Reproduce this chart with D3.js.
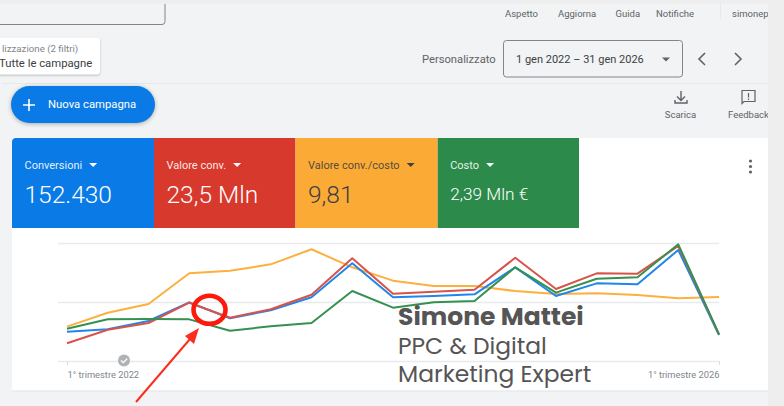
<!DOCTYPE html>
<html>
<head>
<meta charset="utf-8">
<script src="https://cdn.jsdelivr.net/npm/d3@7"></script>
<style>
  html, body { margin: 0; padding: 0; background: #f1f3f4; overflow: hidden; }
  svg { display: block; font-family: Roboto, sans-serif; }
</style>
</head>
<body>
<svg id="chart"></svg>
<script>
// quarters from 1Q 2022 to 1Q 2026
const quarters = ["Q1 22", "Q2 22", "Q3 22", "Q4 22", "Q1 23", "Q2 23", "Q3 23", "Q4 23", "Q1 24", "Q2 24", "Q3 24", "Q4 24", "Q1 25", "Q2 25", "Q3 25", "Q4 25", "Q1 26"];

// values, each metric on its own hidden 0-100 scale
const convCosto = [29.1, 40.9, 48.3, 74.3, 76.5, 81.9, 94.7, 79.4, 68.1, 63.6, 63.6, 59.3, 56.8, 57.4, 55.9, 53.1, 54.2];
const conversioni = [24.8, 26.9, 33.9, 49.7, 36.2, 43, 54, 82.8, 54, 55.1, 56.5, 79.4, 55.1, 65.8, 65, 94.1, 22];
const valoreConv = [15, 26.5, 32.2, 49.4, 36.7, 43.8, 56.2, 87, 57, 58.7, 60.4, 87.5, 61, 74.3, 74, 97.5, 22.6];
const costo = [27.4, 35.3, 35.6, 35.3, 25.7, 29.4, 32.2, 59.3, 45.2, 49.7, 50.8, 79.4, 57.9, 69.7, 70.9, 98.9, 22.6];

const tileLabels = ["Conversioni", "Valore conv.", "Valore conv./costo", "Costo"];
const tileValues = ["152.430", "23,5 Mln", "9,81", "2,39 Mln €"];
const tileColors = ["#0a7be6", "#d8392d", "#fbaa35", "#2c8b4b"];
const tileInk = ["#fff", "#fff", "#3c4043", "#fff"];
const tileSize = [24.5, 24.5, 24.5, 17.2];
const tileEdges = [12, 154, 295.5, 437.7, 579];

const lineColors = ["#fbb03f", "#2186ea", "#d8534a", "#359150"];
const axisLabels = ["1° trimestre 2022", "1° trimestre 2026"];
const gridTicks = [0, 50, 100];

const width = 784, height = 406;
const svg = d3.select("#chart").attr("width", width).attr("height", height);

const txt = (x, y, s, size, fill, anchor = "start", weight = 400, family = null) => {
  const t = svg.append("text").attr("x", x).attr("y", y).attr("font-size", size)
    .attr("fill", fill).attr("text-anchor", anchor).attr("font-weight", weight).text(s);
  if (family) t.attr("font-family", family);
  return t;
};
const caret = (x, y, fill) => svg.append("path")
  .attr("d", `M${x},${y}l8,0l-4,4z`).attr("fill", fill);

// page chrome
svg.append("rect").attr("x", 2).attr("y", 4).attr("width", 766).attr("height", 402).attr("fill", "#f1f3f4");
svg.append("rect").attr("width", width).attr("height", 4).attr("fill", "#eeeeee");
svg.append("path").attr("d", "M0,24.5H162q3,0 3,-3V4").attr("fill", "none").attr("stroke", "#80868b").attr("stroke-width", 1);
svg.append("line").attr("x1", 2).attr("x2", 768).attr("y1", 83.5).attr("y2", 83.5).attr("stroke", "#e6e8ea");

[["Aspetto", 505], ["Aggiorna", 558], ["Guida", 615.5], ["Notifiche", 656], ["simonep", 732]].forEach(d => {
  txt(d[1], 17, d[0], 9.5, "#5f6368");
});
svg.append("line").attr("x1", 720.5).attr("x2", 720.5).attr("y1", 4).attr("y2", 19).attr("stroke", "#e6e8ea");

// filter pill
svg.append("rect").attr("x", -6).attr("y", 37.5).attr("width", 106).attr("height", 37).attr("rx", 3)
  .attr("fill", "#fff").style("filter", "drop-shadow(0 1px 1px rgba(60,64,67,.3))");
txt(2, 52, "lizzazione (2 filtri)", 9.7, "#80868b");
txt(-1, 66.5, "Tutte le campagne", 11.3, "#3c4043");

// date selector
txt(422, 63, "Personalizzato", 11.2, "#5f6368");
svg.append("rect").attr("x", 503.5).attr("y", 40.5).attr("width", 179).attr("height", 36.5).attr("rx", 3)
  .attr("fill", "none").attr("stroke", "#80868b");
txt(516, 63, "1 gen 2022 – 31 gen 2026", 11, "#3c4043");
caret(662, 57.5, "#5f6368");
svg.append("path").attr("d", "M705,53l-6,6l6,6").attr("fill", "none").attr("stroke", "#5f6368").attr("stroke-width", 1.6);
svg.append("path").attr("d", "M735,53l6,6l-6,6").attr("fill", "none").attr("stroke", "#5f6368").attr("stroke-width", 1.6);

// new campaign button
svg.append("rect").attr("x", 11).attr("y", 86).attr("width", 144).attr("height", 37).attr("rx", 18.5)
  .attr("fill", "#0a7be6").style("filter", "drop-shadow(0 1px 2px rgba(60,64,67,.4))");
svg.append("path").attr("d", "M23,105h12M29,99v12").attr("stroke", "#fff").attr("stroke-width", 1.6);
txt(48, 108, "Nuova campagna", 11.3, "#fff");

// download and feedback icons
svg.append("path").attr("d", "M681,91v9M677,96.5l4,4l4,-4M675,100v3h12v-3").attr("fill", "none").attr("stroke", "#5f6368").attr("stroke-width", 1.4);
txt(680.5, 118, "Scarica", 9.5, "#5f6368", "middle");
svg.append("path").attr("d", "M742,90.5h13v11h-11l-2,2zM748.5,93v4.5M748.5,98.5v1.5").attr("fill", "none").attr("stroke", "#5f6368").attr("stroke-width", 1.2);
txt(728, 118, "Feedback", 9.5, "#5f6368");

// card
svg.append("rect").attr("x", 12).attr("y", 138).attr("width", 756).attr("height", 252.5).attr("fill", "#fff");
svg.append("line").attr("x1", 12).attr("x2", 768).attr("y1", 391).attr("y2", 391).attr("stroke", "#e4e6e8");

// metric tiles
tileLabels.forEach((label, i) => {
  const x0 = tileEdges[i], x1 = tileEdges[i + 1];
  svg.append("path")
    .attr("d", i === 0
      ? `M${x0},228V142q0,-4 4,-4H${x1}V228z`
      : `M${x0},138H${x1}V228H${x0}z`)
    .attr("fill", tileColors[i]);
  const lbl = txt(x0 + 12.5, 169, label, 11, tileInk[i]).attr("fill-opacity", 0.9);
  caret(x0 + 12.5 + lbl.node().getComputedTextLength() + 7, 163, tileInk[i]);
  txt(x0 + 12.5, i === 3 ? 200 : 203, tileValues[i], tileSize[i], tileInk[i], "start", 300);
});
[161, 166.5, 172].forEach(y => svg.append("circle").attr("cx", 750.5).attr("cy", y).attr("r", 1.6).attr("fill", "#5f6368"));

// chart
const x = d3.scalePoint().domain(quarters).range([67, 719]);
const y = d3.scaleLinear().domain([0, 100]).range([361, 243]);

const gy = svg.append("g").attr("transform", "translate(58,0)")
  .call(d3.axisRight(y).tickValues(gridTicks).tickSize(661).tickFormat(""));
gy.select(".domain").remove();
gy.selectAll("line").attr("stroke", "#e8eaed").attr("stroke-width", 1.4);

const gx = svg.append("g").attr("transform", "translate(0,361)")
  .call(d3.axisBottom(x).tickValues([quarters[0], quarters[16]]).tickSize(4)
    .tickFormat((d, i) => axisLabels[i]));
gx.select(".domain").remove();
gx.selectAll("line").attr("stroke", "#dadce0");
gx.selectAll("text")
  .attr("font-family", "Roboto, sans-serif").attr("font-size", 9.3).attr("fill", "#80868b").attr("y", 10)
  .attr("text-anchor", (d, i) => i === 0 ? "start" : "end");

const line = d3.line().x((d, i) => x(quarters[i])).y(d => y(d));
[convCosto, conversioni, valoreConv, costo].forEach((values, i) => {
  svg.append("path").attr("d", line(values)).attr("fill", "none")
    .attr("stroke", lineColors[i]).attr("stroke-width", 2).attr("stroke-linejoin", "round");
});

// checked annotation bubble
svg.append("circle").attr("cx", 124).attr("cy", 360.5).attr("r", 6).attr("fill", "#b0b3b6");
svg.append("path").attr("d", "M121,360.5l2.2,2.2l4,-4").attr("fill", "none").attr("stroke", "#fff").attr("stroke-width", 1.3);

// hand drawn highlight and arrow
svg.append("ellipse").attr("cx", 209.5).attr("cy", 309.8).attr("rx", 16).attr("ry", 14)
  .attr("fill", "none").attr("stroke", "#fb1a0c").attr("stroke-width", 4.6);
svg.append("line").attr("x1", 136).attr("y1", 402).attr("x2", 190).attr("y2", 339).attr("stroke", "#fb2d1e").attr("stroke-width", 2);
svg.append("path").attr("d", "M199,328L194,344L185,336z").attr("fill", "#fb2d1e");

// watermark
const wm = "Poppins, Lato, 'Open Sans', sans-serif";
txt(398, 325, "Simone Mattei", 25, "#555", "start", 700, wm);
txt(398, 354, "PPC & Digital", 23.4, "#555", "start", 400, wm);
txt(398, 382, "Marketing Expert", 23.4, "#555", "start", 400, wm);

// right edge band sits over anything that runs past the card
svg.append("rect").attr("x", 768).attr("width", 16).attr("height", height).attr("fill", "#eeeeee");
</script>
</body>
</html>
